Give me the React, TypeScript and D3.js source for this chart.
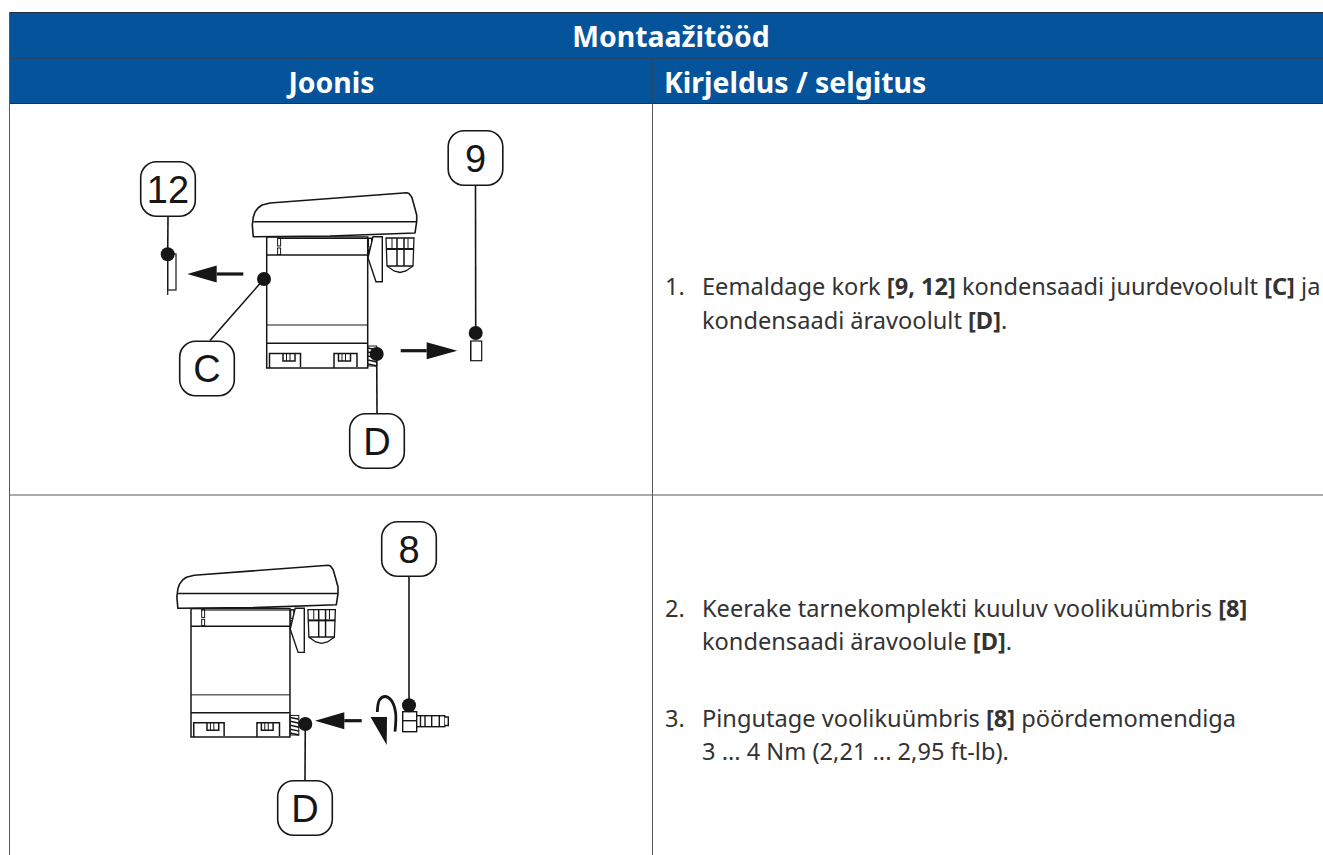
import React from "react";
import * as d3 from "d3";

const BLUE = "#04539b";
const INK = "#161616";
const RULE = "#55585c";
const BODY = "'Noto Sans', sans-serif";
const LABEL = "'Liberation Sans', Arial, sans-serif";

const title = "Montaažitööd";
const columnHeads = ["Joonis", "Kirjeldus / selgitus"];
const rowEdges = [12.5, 58.5, 103.5, 495, 870];
const columnEdges = [9.5, 652.5, 1340];

type Seg = [string, boolean];
const descriptionLines: { x: number; y: number; segs: Seg[] }[] = [
  { x: 665, y: 295, segs: [["1.", false]] },
  { x: 702, y: 295, segs: [["Eemaldage kork ", false], ["[9, 12]", true], [" kondensaadi juurdevoolult ", false], ["[C]", true], [" ja", false]] },
  { x: 702, y: 329, segs: [["kondensaadi äravoolult ", false], ["[D]", true], [".", false]] },
  { x: 665, y: 617, segs: [["2.", false]] },
  { x: 702, y: 617, segs: [["Keerake tarnekomplekti kuuluv voolikuümbris ", false], ["[8]", true]] },
  { x: 702, y: 650, segs: [["kondensaadi äravoolule ", false], ["[D]", true], [".", false]] },
  { x: 665, y: 727, segs: [["3.", false]] },
  { x: 702, y: 727, segs: [["Pingutage voolikuümbris ", false], ["[8]", true], [" pöördemomendiga", false]] },
  { x: 702, y: 760, segs: [["3 ... 4 Nm (2,21 ... 2,95 ft-lb).", false]] },
];

const callouts = [
  { label: "12", cx: 168, cy: 189, dot: [167.7, 254.3] },
  { label: "9", cx: 475.5, cy: 158, dot: [475.7, 333] },
  { label: "C", cx: 207, cy: 368.5, dot: [264, 279] },
  { label: "D", cx: 377, cy: 441, dot: [376.7, 354] },
  { label: "8", cx: 409, cy: 549, dot: [409, 705.3] },
  { label: "D", cx: 305, cy: 808, dot: [305.3, 724] },
];

const arrows = [
  { tail: 243.3, base: 216.7, tip: 187.3, y: 274 },
  { tail: 400.7, base: 426.7, tip: 457.3, y: 350.7 },
  { tail: 361.7, base: 344.3, tip: 315, y: 720.7 },
];

const deviceInstances = [
  { dx: 0, dy: 0, k: 1 },
  { k: 0.98, dx: 191 - 266.7 * 0.98, dy: 609.3 - 237.7 * 0.98 },
];

const hoodOutline: [number, number][] = [
  [253.3, 236.7], [252.3, 225], [253.3, 217], [255, 212], [258, 208], [262, 205], [270, 203], [406.7, 192.7],
  [409, 193.5], [411.7, 197], [414, 205], [416.7, 215], [416.7, 221.7], [415, 233], [330, 236], [253.3, 236.7],
];
const clipOutline: [number, number][] = [[373, 236.7], [382.3, 236.7], [382.3, 281.7], [376, 281.7], [368, 258]];
const glandOutline: [number, number][] = [[386, 238], [414, 238], [413, 266], [406, 271], [400, 272.5], [394, 271], [387, 266]];
const capRects = [
  { x: 167.7, y: 254, w: 8.3, h: 36, tail: 295 },
  { x: 470.7, y: 341, w: 11, h: 19.7, tail: 361 },
];

const line = d3.line();
const smooth = d3.line().curve(d3.curveCatmullRom.alpha(0.5));

function Device({ dx, dy, k }: { dx: number; dy: number; k: number }) {
  const s = { fill: "none", stroke: INK, strokeWidth: 1.5 / k };
  const thin = { fill: "none", stroke: INK, strokeWidth: 1 / k };
  const grooves = d3.range(5);
  const glandBars = [397, 404];
  return (
    <g transform={`translate(${dx},${dy}) scale(${k})`}>
      <path d={line(hoodOutline) + "Z"} fill="#fff" stroke={INK} strokeWidth={1.6 / k} strokeLinejoin="round" />
      <path d={line([[253.5, 221.7], [416.5, 221.7]])!} {...s} />
      <rect x={266.7} y={237} width={101} height={131} {...s} />
      <path d={line([[266.7, 255], [367.7, 255]])!} {...s} />
      <path d={line([[266.7, 325], [367.7, 325]])!} {...thin} />
      <path d={line([[266.7, 343.3], [367.7, 343.3]])!} {...s} />
      <path d={line([[277, 238.5], [373, 238.5]])!} {...thin} />
      {[[277.6, 238, 3, 8], [277.6, 248, 3, 6.5], [368.5, 238, 3, 9], [368.5, 249, 3, 7.5]].map((r, i) => (
        <rect key={i} x={r[0]} y={r[1]} width={r[2]} height={r[3]} {...thin} />
      ))}
      <path d={line(clipOutline) + "Z"} fill="#fff" stroke={INK} strokeWidth={1.4 / k} />
      <path d={line(glandOutline) + "Z"} fill="#fff" stroke={INK} strokeWidth={1.3 / k} />
      <path d={line([[386, 249], [414, 249]])!} fill="none" stroke={INK} strokeWidth={2 / k} />
      <path d={line([[387, 266], [413, 266]])!} {...s} />
      {glandBars.map((x) => <path key={x} d={line([[x, 238], [x, 266]])!} {...s} />)}
      <path d={line([[392, 238], [392, 248]])!} {...thin} />
      <path d={line([[408, 238], [408, 248]])!} {...thin} />
      {[[269.5, 31, 283, 12], [334, 23, 338.5, 12]].map((w, i) => (
        <g key={i}>
          <path d={line([[w[0], 368], [w[0], 353.5], [w[0] + w[1], 353.5], [w[0] + w[1], 367]])!} {...s} />
          <path d={line([[w[2], 353.5], [w[2], 361], [w[2] + w[3], 361], [w[2] + w[3], 353.5]])!} {...s} />
          {[3.5, 7].map((o) => <path key={o} d={line([[w[2] + o, 353.5], [w[2] + o, 361]])!} {...thin} />)}
        </g>
      ))}
      <rect x={367.7} y={346} width={9} height={20} fill="#fff" {...thin} />
      {grooves.map((i) => (
        <path key={i} d={line([[368, 348 + i * 4], [377, 350 + i * 4]])!} {...s} />
      ))}
    </g>
  );
}

export default function App() {
  const arcPoints: [number, number][] = [[395, 731.7], [395.5, 712], [391, 700], [385, 696.5], [379.5, 700], [377.3, 712]];
  return (
    <svg width={1323} height={855} style={{ position: "absolute", left: 0, top: 0, display: "block", background: "#fff" }}>
      <rect x={columnEdges[0]} y={rowEdges[0]} width={1400} height={rowEdges[2] - rowEdges[0]} fill={BLUE} />
      <path d={line([[columnEdges[0], rowEdges[0]], [1323, rowEdges[0]]])!} stroke="#23303c" fill="none" />
      <path d={line([[columnEdges[0], rowEdges[1]], [1323, rowEdges[1]]])!} stroke="#24466b" fill="none" />
      <path d={line([[columnEdges[1], rowEdges[1]], [columnEdges[1], rowEdges[2]]])!} stroke="#24466b" fill="none" />
      <path d={line([[columnEdges[0], rowEdges[2]], [1323, rowEdges[2]]])!} stroke="#23303c" fill="none" />
      <path d={line([[columnEdges[0], rowEdges[3]], [1323, rowEdges[3]]])!} stroke={RULE} fill="none" />
      <path d={line([[columnEdges[0], rowEdges[0]], [columnEdges[0], 855]])!} stroke={RULE} fill="none" />
      <path d={line([[columnEdges[1], rowEdges[2]], [columnEdges[1], 855]])!} stroke={RULE} fill="none" />

      <text x={671} y={47} textAnchor="middle" fill="#fff" fontFamily={BODY} fontWeight={700} fontSize={28.4}>{title}</text>
      <text x={331.5} y={93} textAnchor="middle" fill="#fff" fontFamily={BODY} fontWeight={700} fontSize={28.4}>{columnHeads[0]}</text>
      <text x={664} y={93} fill="#fff" fontFamily={BODY} fontWeight={700} fontSize={28.4}>{columnHeads[1]}</text>

      {descriptionLines.map((l, i) => (
        <text key={i} x={l.x} y={l.y} fill="#333" fontFamily={BODY} fontSize={23.6}>
          {l.segs.map(([t, b], j) => <tspan key={j} fontWeight={b ? 700 : 400} xmlSpace="preserve">{t}</tspan>)}
        </text>
      ))}

      {deviceInstances.map((d, i) => <Device key={i} {...d} />)}

      {capRects.map((c, i) => (
        <g key={i} fill="none" stroke={INK} strokeWidth={1.2}>
          <rect x={c.x} y={c.y} width={c.w} height={c.h} />
          <path d={line([[c.x, c.y], [c.x, c.tail]])!} />
        </g>
      ))}

      {arrows.map((a, i) => (
        <g key={i} fill={INK} stroke="none">
          <path d={line([[a.tail, a.y], [a.base, a.y]])!} stroke={INK} strokeWidth={3.2} fill="none" />
          <path d={line([[a.tip, a.y], [a.base, a.y - 8.5], [a.base, a.y + 8.5]])! + "Z"} />
        </g>
      ))}

      <path d={smooth(arcPoints)!} fill="none" stroke={INK} strokeWidth={2.8} />
      <path d={line([[370.5, 717], [387, 717], [386.7, 745]])! + "Z"} fill={INK} />

      <g fill="#fff" stroke={INK} strokeWidth={1.4}>
        <rect x={402.7} y={711.7} width={14} height={20} />
        <path d={line([[402.7, 720.7], [416.7, 720.7]])!} />
        <rect x={416.7} y={715.7} width={28} height={11} />
        <path d={line([[444.7, 717], [448.3, 717], [448.3, 725.5], [444.7, 725.5]])!} />
        {[420.5, 425, 431.7, 439.3].map((x) => <path key={x} d={line([[x, 715.7], [x, 726.7]])!} />)}
      </g>

      {callouts.map((c, i) => {
        const half = 27.3;
        const dy = c.dot[1] > c.cy ? half : -half;
        const sameColumn = Math.abs(c.dot[0] - c.cx) < 2;
        const start: [number, number] = sameColumn ? [c.cx, c.cy + dy] : [210, 340.5];
        return (
          <g key={i}>
            <path d={line([start, c.dot as [number, number]])!} stroke={INK} strokeWidth={1.6} fill="none" />
            <circle cx={c.dot[0]} cy={c.dot[1]} r={7} fill={INK} />
            <rect x={c.cx - half} y={c.cy - half} width={half * 2} height={half * 2} rx={16} fill="#fff" stroke={INK} strokeWidth={1.6} />
            <text x={c.cx} y={c.cy + 13.8} textAnchor="middle" fill={INK} fontFamily={LABEL} fontSize={38}>{c.label}</text>
          </g>
        );
      })}
    </svg>
  );
}
